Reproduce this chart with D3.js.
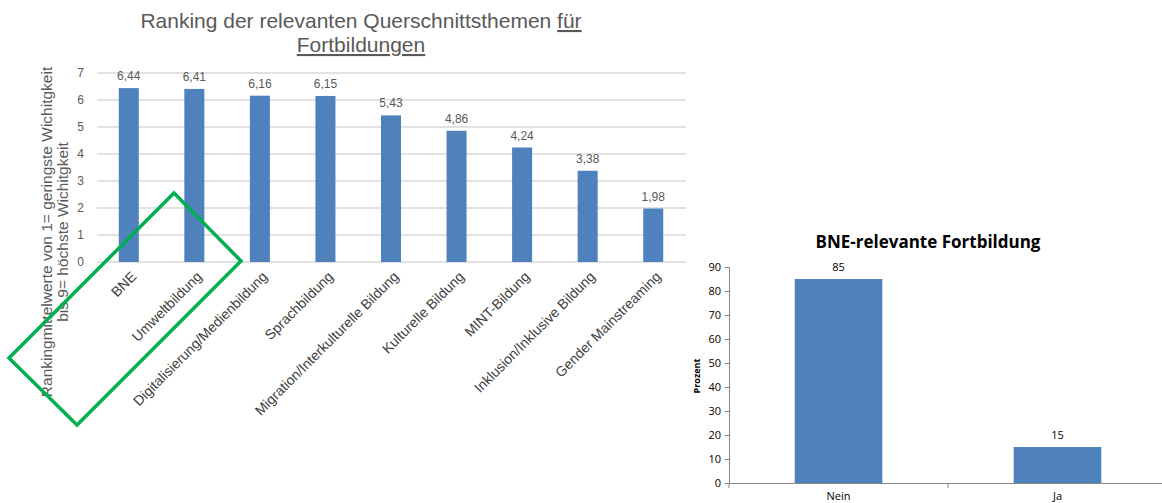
<!DOCTYPE html>
<html><head><meta charset="utf-8">
<script src="https://cdn.jsdelivr.net/npm/d3@7"></script>
<style>body{margin:0;background:#fff}svg{display:block}</style>
</head><body>
<svg id="c" width="1162" height="503"></svg>
<script>
// ---- Data: left chart
const rankCategories = ["BNE","Umweltbildung","Digitalisierung/Medienbildung","Sprachbildung","Migration/Interkulturelle Bildung","Kulturelle Bildung","MINT-Bildung","Inklusion/Inklusive Bildung","Gender Mainstreaming"];
const rankValues = [6.44, 6.41, 6.16, 6.15, 5.43, 4.86, 4.24, 3.38, 1.98];
const rankTicks = [0,1,2,3,4,5,6,7];
// ---- Data: right chart
const bneCategories = ["Nein","Ja"];
const bneValues = [85, 15];
const bneTicks = [0,10,20,30,40,50,60,70,80,90];

const svg = d3.select("#c");
const blue = "#4f81bd";
const fmt = v => d3.format(".2f")(v).replace(".", ",");
const lf = "Liberation Sans, Arial, sans-serif";

// ===== Left chart =====
const L = svg.append("g");
const lx = d3.scaleBand().domain(rankCategories).range([96, 686]).paddingInner(0).paddingOuter(0);
const ly = d3.scaleLinear().domain([0, 7]).range([262, 73]);

L.append("g").selectAll("line").data(rankTicks).join("line")
  .attr("x1", 97).attr("x2", 686)
  .attr("y1", d => ly(d)).attr("y2", d => ly(d))
  .attr("stroke", "#d9d9d9").attr("stroke-width", 1.4);

L.append("g").selectAll("text").data(rankTicks).join("text")
  .attr("x", 84).attr("y", d => ly(d)).attr("dy", "0.35em")
  .attr("text-anchor", "end")
  .attr("font-family", lf).attr("font-size", 12)
  .attr("fill", "#595959").text(d => d);

const bw = 20;
L.append("g").selectAll("rect").data(rankValues).join("rect")
  .attr("x", (d, i) => lx(rankCategories[i]) + lx.bandwidth() / 2 - bw / 2)
  .attr("width", bw)
  .attr("y", d => ly(d)).attr("height", d => ly(0) - ly(d))
  .attr("fill", blue);

L.append("g").selectAll("text").data(rankValues).join("text")
  .attr("x", (d, i) => lx(rankCategories[i]) + lx.bandwidth() / 2)
  .attr("y", d => ly(d) - 8)
  .attr("text-anchor", "middle")
  .attr("font-family", lf).attr("font-size", 12)
  .attr("fill", "#595959").text(d => fmt(d));

L.append("g").selectAll("text").data(rankCategories).join("text")
  .attr("transform", d => `translate(${lx(d) + lx.bandwidth() / 2 + 5},${ly(0) + 12}) rotate(-45)`)
  .attr("text-anchor", "end").attr("dy", "0.35em")
  .attr("font-family", lf).attr("font-size", 14)
  .attr("fill", "#404040").text(d => d);

// Title
const title = L.append("text").attr("text-anchor", "middle")
  .attr("font-family", lf).attr("font-size", 21)
  .attr("fill", "#595959");
const t1 = title.append("tspan").attr("x", 361).attr("y", 28);
t1.append("tspan").text("Ranking der relevanten Querschnittsthemen ");
t1.append("tspan").attr("text-decoration", "underline").text("für");
title.append("tspan").attr("x", 361).attr("y", 52).attr("text-decoration", "underline").text("Fortbildungen");

// Y axis title
const yt = L.append("text").attr("transform", "translate(55,232) rotate(-90)")
  .attr("text-anchor", "middle")
  .attr("font-family", lf).attr("font-size", 15.5)
  .attr("fill", "#595959");
yt.append("tspan").attr("x", 0).attr("y", -3).text("Rankingmittelwerte von 1= geringste Wichitgkeit");
yt.append("tspan").attr("x", 0).attr("y", 13).text("bis 9= höchste Wichitgkeit");

// Green highlight annotation (rotated rectangle)
const hl = [[174, 193], [241, 261], [77, 425], [9, 358]];
L.append("path").attr("d", d3.line()(hl) + "Z")
  .attr("fill", "none").attr("stroke", "#00b050").attr("stroke-width", 3.5).attr("stroke-linejoin", "miter");

// ===== Right chart =====
const R = svg.append("g");
const rx = d3.scaleBand().domain(bneCategories).range([729, 1167]);
const ry = d3.scaleLinear().domain([0, 90]).range([483, 267]);
const rf = "Open Sans, Noto Sans, sans-serif";

const yAxis = R.append("g").attr("transform", "translate(729,0)")
  .call(d3.axisLeft(ry).tickValues(bneTicks).tickSize(4).tickPadding(4));
yAxis.select(".domain").attr("stroke", "#868686");
yAxis.selectAll(".tick line").attr("stroke", "#868686");
yAxis.selectAll(".tick text").attr("font-family", rf).attr("font-size", 11).attr("fill", "#000");

const xAxis = R.append("g").attr("transform", "translate(0,483)")
  .call(d3.axisBottom(rx).tickSize(0).tickPadding(9));
xAxis.select(".domain").attr("stroke", "#868686");
xAxis.selectAll(".tick text").attr("font-family", rf).attr("font-size", 11).attr("fill", "#000");
// boundary ticks between categories
R.append("g").selectAll("line").data(bneCategories).join("line")
  .attr("x1", d => rx(d)).attr("x2", d => rx(d))
  .attr("y1", 483).attr("y2", 488).attr("stroke", "#868686");

const rbw = rx.bandwidth() * 0.4;
R.append("g").selectAll("rect").data(bneValues).join("rect")
  .attr("x", (d, i) => rx(bneCategories[i]) + rx.bandwidth() / 2 - rbw / 2)
  .attr("width", rbw)
  .attr("y", d => ry(d)).attr("height", d => ry(0) - ry(d))
  .attr("fill", blue);

R.append("g").selectAll("text").data(bneValues).join("text")
  .attr("x", (d, i) => rx(bneCategories[i]) + rx.bandwidth() / 2)
  .attr("y", d => ry(d) - 8)
  .attr("text-anchor", "middle")
  .attr("font-family", rf).attr("font-size", 11).attr("fill", "#000").text(d => d);

R.append("text").attr("x", 928).attr("y", 248).attr("text-anchor", "middle")
  .attr("font-family", rf).attr("font-weight", "bold").attr("font-size", 17)
  .attr("fill", "#000").text("BNE-relevante Fortbildung");

R.append("text").attr("transform", "translate(700,376) rotate(-90)")
  .attr("text-anchor", "middle")
  .attr("font-family", rf).attr("font-weight", "bold").attr("font-size", 9)
  .attr("fill", "#000").text("Prozent");
</script>
</body></html>
